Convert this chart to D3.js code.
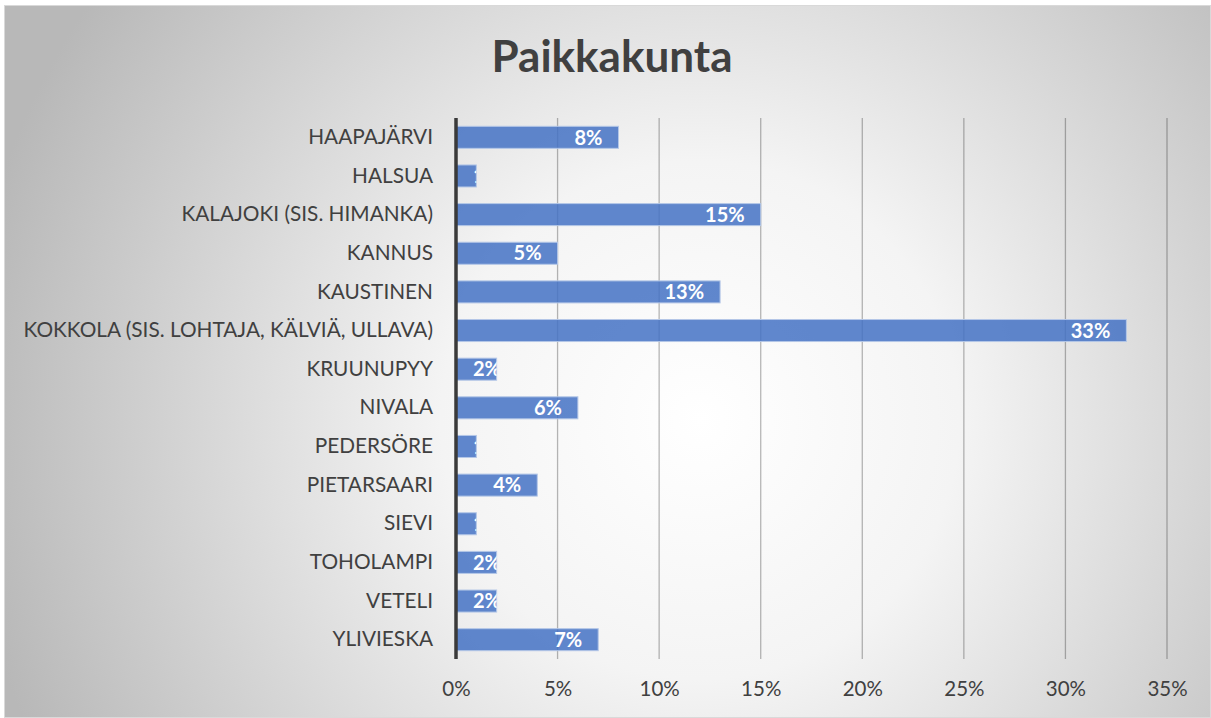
<!DOCTYPE html>
<html>
<head>
<meta charset="utf-8">
<script src="https://cdn.jsdelivr.net/npm/d3@7"></script>
<style>
  body { margin: 0; background: #fff; }
  svg { display: block; }
</style>
</head>
<body>
<div id="chart"></div>
<script>
// values (percent)
var places = ["HAAPAJÄRVI", "HALSUA", "KALAJOKI (SIS. HIMANKA)", "KANNUS", "KAUSTINEN",
  "KOKKOLA (SIS. LOHTAJA, KÄLVIÄ, ULLAVA)", "KRUUNUPYY", "NIVALA", "PEDERSÖRE",
  "PIETARSAARI", "SIEVI", "TOHOLAMPI", "VETELI", "YLIVIESKA"];
var shares = [8, 1, 15, 5, 13, 33, 2, 6, 1, 4, 1, 2, 2, 7];
var ticks = [0, 5, 10, 15, 20, 25, 30, 35];

var W = 1211, H = 718;
var plot = {left: 456, right: 1167, top: 118, bottom: 659};

var svg = d3.select("#chart").append("svg")
    .attr("width", W)
    .attr("height", H);

var defs = svg.append("defs");
var grad = defs.append("radialGradient")
    .attr("id", "bg")
    .attr("gradientUnits", "userSpaceOnUse")
    .attr("cx", 700).attr("cy", 420).attr("r", 740);
grad.append("stop").attr("offset", "0%").attr("stop-color", "#ffffff");
grad.append("stop").attr("offset", "35%").attr("stop-color", "#f4f4f4");
grad.append("stop").attr("offset", "100%").attr("stop-color", "#b8b8b8");

svg.append("rect")
    .attr("x", 4.5).attr("y", 5.5)
    .attr("width", W - 5).attr("height", H - 6)
    .attr("fill", "url(#bg)")
    .attr("stroke", "#d9d9d9");

svg.append("text")
    .attr("x", 612).attr("y", 72)
    .attr("text-anchor", "middle")
    .style("font-family", "Lato")
    .style("font-weight", "bold")
    .style("font-size", "44px")
    .style("fill", "#404040")
    .text("Paikkakunta");

var x = d3.scaleLinear()
    .domain([0, 35])
    .range([plot.left, plot.right]);

var y = d3.scaleBand()
    .domain(places)
    .range([plot.top, plot.bottom])
    .paddingInner(0.43)
    .paddingOuter(0.215);

// gridlines
svg.append("g")
    .selectAll("line")
    .data(ticks.slice(1))
    .enter().append("line")
    .attr("x1", function(d) { return x(d); })
    .attr("x2", function(d) { return x(d); })
    .attr("y1", plot.top)
    .attr("y2", plot.bottom)
    .attr("stroke", "#000")
    .attr("stroke-opacity", 0.28)
    .attr("stroke-width", 1.3);

// x tick labels
var xAxis = svg.append("g")
    .attr("transform", "translate(0," + plot.bottom + ")")
    .call(d3.axisBottom(x).tickValues(ticks).tickSize(0).tickPadding(22)
        .tickFormat(function(d) { return d + "%"; }));
xAxis.select(".domain").remove();
xAxis.selectAll("text")
    .style("font-family", "Lato")
    .style("font-size", "20.5px")
    .style("fill", "#404040");

// category labels
var yAxis = svg.append("g")
    .attr("transform", "translate(" + (plot.left - 23) + ",0)")
    .call(d3.axisLeft(y).tickSize(0).tickPadding(0));
yAxis.select(".domain").remove();
yAxis.selectAll("text")
    .style("font-family", "Lato")
    .style("font-size", "20.8px")
    .style("fill", "#404040");

var rows = places.map(function(p, i) { return {name: p, value: shares[i], i: i}; });

rows.forEach(function(d) {
  defs.append("clipPath").attr("id", "clip" + d.i)
    .append("rect")
    .attr("x", x(0))
    .attr("y", y(d.name))
    .attr("width", x(d.value) - x(0))
    .attr("height", y.bandwidth());
});

var bars = svg.append("g");
bars.selectAll("rect")
    .data(rows)
    .enter().append("rect")
    .attr("x", x(0))
    .attr("y", function(d) { return y(d.name); })
    .attr("width", function(d) { return x(d.value) - x(0); })
    .attr("height", y.bandwidth())
    .attr("fill", "#4472c4")
    .attr("fill-opacity", 0.85)
    .attr("stroke", "#b4c7e7")
    .attr("stroke-width", 1);

bars.selectAll("text")
    .data(rows)
    .enter().append("text")
    .attr("clip-path", function(d) { return "url(#clip" + d.i + ")"; })
    .attr("y", function(d) { return y(d.name) + y.bandwidth() / 2; })
    .attr("dy", "0.36em")
    .attr("text-anchor", "end")
    .style("font-family", "Lato")
    .style("font-weight", "bold")
    .style("font-size", "20px")
    .style("fill", "#fff")
    .text(function(d) { return d.value + "%"; })
    .attr("x", function(d) {
      var w = this.getComputedTextLength();
      return Math.max(x(d.value) - 16, x(0) + 17 + w);
    });

// vertical axis line
svg.append("line")
    .attr("x1", x(0)).attr("x2", x(0))
    .attr("y1", plot.top).attr("y2", plot.bottom)
    .attr("stroke", "#3a3a3a")
    .attr("stroke-width", 3.5);
</script>
</body>
</html>
